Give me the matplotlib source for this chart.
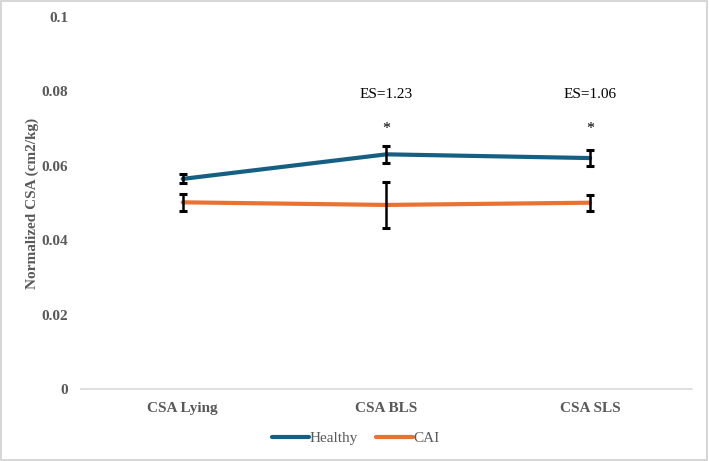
import matplotlib
matplotlib.use("Agg")
import matplotlib.pyplot as plt
from matplotlib.patches import Rectangle
import numpy as np

categories = ["CSA Lying", "CSA BLS", "CSA SLS"]
healthy = [0.0565, 0.0631, 0.0621]
healthy_err = [0.0012, 0.0022, 0.0022]
cai = [0.0502, 0.0495, 0.0501]
cai_err = [0.0022, 0.0061, 0.0022]
es_labels = ["", "ES=1.23", "ES=1.06"]
stars = ["", "*", "*"]
yticks = [0, 0.02, 0.04, 0.06, 0.08, 0.1]
ytick_labels = ["0", "0.02", "0.04", "0.06", "0.08", "0.1"]

BLUE, ORANGE, GREY = "#156082", "#E97132", "#595959"
plt.rcParams["font.family"] = ["Liberation Serif", "DejaVu Serif"]

fig = plt.figure(figsize=(7.09, 4.61), dpi=100)
ax = fig.add_axes([0.114, 0.156, 0.862, 0.807])
x = np.arange(len(categories))

ax.plot(x, healthy, color=BLUE, lw=3, solid_capstyle="round", label="Healthy", zorder=3)
ax.plot(x, cai, color=ORANGE, lw=3, solid_capstyle="round", label="CAI", zorder=3)
ax.errorbar(x, healthy, yerr=healthy_err, fmt="none", ecolor="black", elinewidth=1.8,
            capsize=3, capthick=2.2, zorder=4)
ax.errorbar(x, cai, yerr=cai_err, fmt="none", ecolor="black", elinewidth=1.8,
            capsize=3, capthick=2.2, zorder=4)

for xi, es, st in zip(x, es_labels, stars):
    if es:
        ax.text(xi, 0.0793, es, ha="center", va="center", fontsize=11, color="black")
    if st:
        ax.text(xi, 0.0698, st, ha="center", va="center", fontsize=11.5, color="black")

ax.set_xlim(-0.5, 2.5)
ax.set_ylim(0, 0.1)
ax.set_xticks(x)
ax.set_xticklabels(categories, fontsize=11, fontweight="bold", color=GREY)
ax.set_yticks(yticks)
ax.set_yticklabels(ytick_labels, fontsize=11, fontweight="bold", color=GREY)
ax.tick_params(axis="both", length=0)
ax.tick_params(axis="y", pad=9)
ax.tick_params(axis="x", pad=9)
for s in ["top", "right", "left"]:
    ax.spines[s].set_visible(False)
ax.spines["bottom"].set_color("#d9d9d9")
ax.spines["bottom"].set_linewidth(1.2)
ax.set_ylabel("Normalized CSA (cm2/kg)", fontsize=11, fontweight="bold", color=GREY, labelpad=2)

fig.legend(loc="center", bbox_to_anchor=(356 / 709, 1 - 438 / 461), ncol=2, frameon=False,
           fontsize=11, handlelength=2.4, handletextpad=0.05, columnspacing=1.2,
           labelcolor=GREY)

fig.patches.append(Rectangle((0.002, 0.003), 0.995, 0.994, transform=fig.transFigure,
                             fill=False, edgecolor="#d0d0d0", lw=1.2))
fig.savefig("out.png", dpi=100)
